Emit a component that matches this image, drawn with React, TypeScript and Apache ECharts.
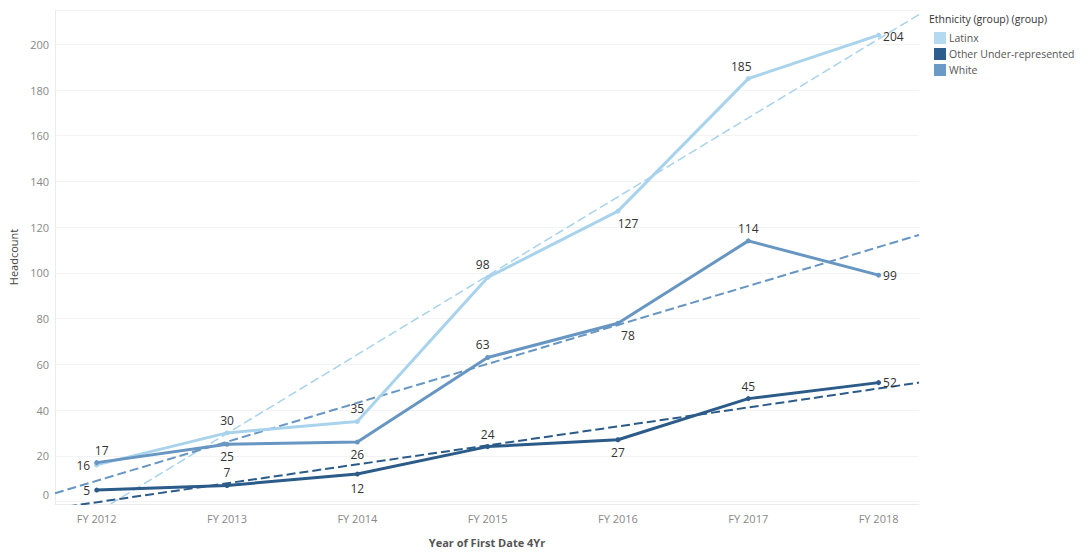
import React, { useEffect, useRef } from "react";
import * as echarts from "echarts";

const years = ["FY 2012", "FY 2013", "FY 2014", "FY 2015", "FY 2016", "FY 2017", "FY 2018"];
const seriesNames = ["Latinx", "Other Under-represented", "White"];
const latinx = [16, 30, 35, 98, 127, 185, 204];
const other = [5, 7, 12, 24, 27, 45, 52];
const white = [17, 25, 26, 63, 78, 114, 99];
// trend line values read at the left and right edges of the plot
const latinxTrend = [-15.8, 213];
const otherTrend = [-3.0, 52];
const whiteTrend = [3.6, 116.6];

const X_MIN = -0.32;
const X_MAX = 6.31;
const Y_MIN = -1.1;
const Y_MAX = 215;

const colors = ["#a9d3ec", "#2b5b88", "#6796c2"];
const legendColors = ["#b4d9f0", "#2c5d8c", "#6b9ac7"];

// label placement (style only)
const latinxPos: any[] = [
  { position: "left", offset: [0, 1] },
  { position: "top" },
  { position: "top" },
  { position: "top", offset: [-5, 0] },
  { position: "bottom", offset: [10, 0] },
  { position: "top", offset: [-7, 0] },
  { position: "right", offset: [-2, 1] },
];
const otherPos: any[] = [
  { position: "left" },
  { position: "top" },
  { position: "bottom", offset: [0, 2] },
  { position: "top" },
  { position: "bottom" },
  { position: "top" },
  { position: "right", offset: [-2, 0] },
];
const whitePos: any[] = [
  { position: "top", offset: [5, 0] },
  { position: "bottom" },
  { position: "bottom" },
  { position: "top", offset: [-5, 0] },
  { position: "bottom", offset: [10, 0] },
  { position: "top" },
  { position: "right", offset: [-2, 0] },
];

function mk(values: number[], pos: any[]) {
  return values.map((v, i) => ({
    value: [i, v],
    label: { show: true, distance: 4, ...pos[i] },
  }));
}

const FONT = "'Open Sans', 'DejaVu Sans', sans-serif";

export default function App() {
  const ref = useRef<HTMLDivElement>(null);
  useEffect(() => {
    document.body.style.margin = "0";
    if (!ref.current) return;
    const chart = echarts.init(ref.current, undefined, { renderer: "svg" });
    const dataSets = [latinx, other, white];
    const posSets = [latinxPos, otherPos, whitePos];
    const trends = [latinxTrend, otherTrend, whiteTrend];
    const trendWidths = [1.5, 2, 2];
    const series: any[] = [];
    trends.forEach((t, k) => {
      series.push({
        name: seriesNames[k] + " trend",
        type: "line",
        data: [
          [X_MIN, t[0]],
          [X_MAX, t[1]],
        ],
        symbol: "none",
        silent: true,
        z: 1,
        lineStyle: { color: colors[k], width: trendWidths[k], type: [9, 4] },
      });
    });
    dataSets.forEach((d, k) => {
      series.push({
        name: seriesNames[k],
        type: "line",
        data: mk(d, posSets[k]),
        symbol: "circle",
        symbolSize: 5,
        z: 3,
        itemStyle: { color: colors[k] },
        lineStyle: { color: colors[k], width: 3 },
        label: {
          show: true,
          color: "#333",
          fontSize: 12,
          fontFamily: FONT,
          formatter: (p: any) => String(p.value[1]),
        },
      });
    });

    chart.setOption({
      animation: false,
      backgroundColor: "#ffffff",
      textStyle: { fontFamily: FONT },
      grid: { left: 54, right: 170, top: 10, bottom: 45, containLabel: false },
      legend: {
        data: seriesNames.map((n, i) => ({ name: n, itemStyle: { color: legendColors[i] } })),
        orient: "vertical",
        left: 929,
        top: 27,
        itemWidth: 12,
        itemHeight: 12,
        itemGap: 4,
        icon: "rect",
        selectedMode: false,
        textStyle: { color: "#555", fontSize: 10.5, fontFamily: FONT, padding: [0, 0, 0, -2] },
      },
      graphic: [
        {
          type: "text",
          left: 929,
          top: 13,
          style: {
            text: "Ethnicity (group) (group)",
            fill: "#333",
            fontSize: 10.5,
            fontFamily: FONT,
          },
        },
      ],
      xAxis: {
        type: "value",
        min: X_MIN,
        max: X_MAX,
        splitNumber: 6,
        name: "Year of First Date 4Yr",
        nameLocation: "middle",
        nameGap: 33,
        nameTextStyle: { color: "#555", fontSize: 11, fontWeight: "bold", fontFamily: FONT },
        axisLine: { show: true, onZero: false, lineStyle: { color: "#ececec" } },
        axisTick: { show: false },
        splitLine: { show: false },
        axisLabel: {
          color: "#888",
          fontSize: 11,
          margin: 9,
          showMinLabel: false,
          showMaxLabel: false,
          formatter: (v: number) => {
            const r = Math.round(v);
            if (Math.abs(v - r) > 1e-6 || r < 0 || r >= years.length) return "";
            return years[r];
          },
        },
      },
      yAxis: {
        type: "value",
        min: Y_MIN,
        max: Y_MAX,
        splitNumber: 10,
        name: "Headcount",
        nameLocation: "middle",
        nameRotate: 90,
        nameGap: 36,
        nameTextStyle: { color: "#444", fontSize: 11, fontFamily: FONT },
        axisLine: { show: true, onZero: false, lineStyle: { color: "#ececec" } },
        axisTick: { show: false },
        splitLine: { show: true, lineStyle: { color: "#f3f3f3", width: 1 } },
        axisLabel: {
          color: "#888",
          fontSize: 11,
          margin: 6,
          showMinLabel: false,
          showMaxLabel: false,
          formatter: (v: number) => {
            const r = Math.round(v);
            if (Math.abs(v - r) > 1e-6 || r % 20 !== 0 || r < 0 || r > 200) return "";
            return r === 0 ? "{z|0}" : String(r);
          },
          rich: { z: { padding: [0, 0, 14, 0], color: "#888", fontSize: 11 } },
        },
      },
      series,
    });
    return () => chart.dispose();
  }, []);
  return <div ref={ref} style={{ width: 1089, height: 553 }} />;
}
